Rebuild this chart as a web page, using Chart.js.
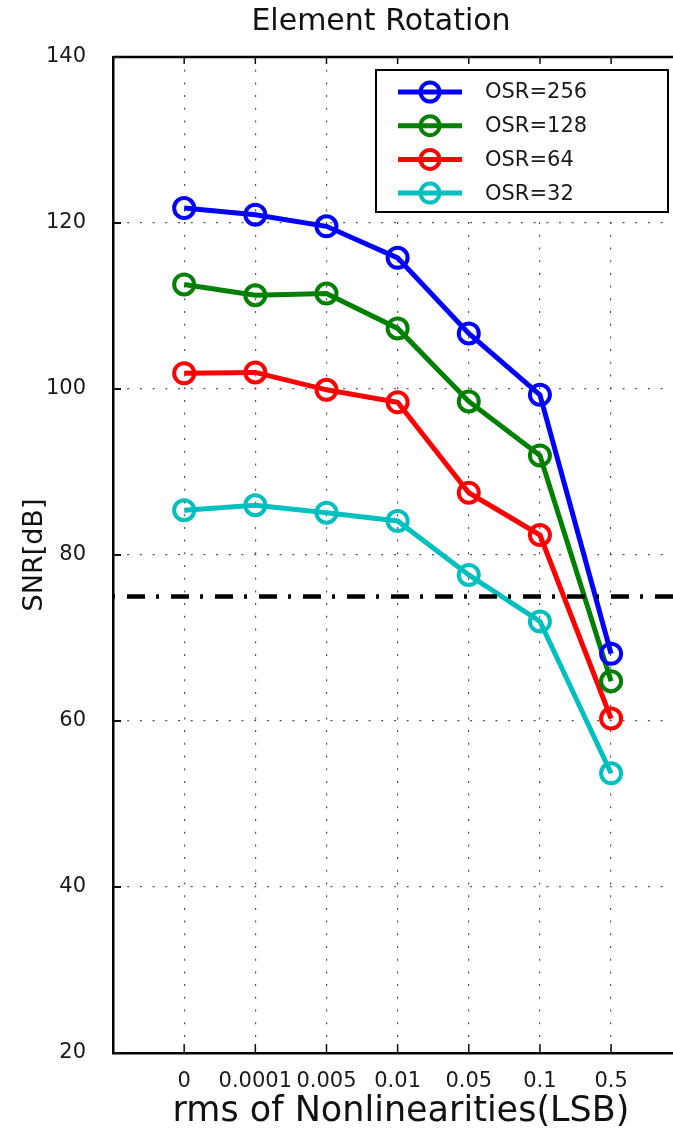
<!DOCTYPE html>
<html>
<head>
<meta charset="utf-8">
<script src="https://cdn.jsdelivr.net/npm/chart.js@4/dist/chart.umd.min.js"></script>
<style>
  html, body { margin: 0; padding: 0; background: #fff; }
  #wrap { width: 673px; height: 1134px; }
</style>
</head>
<body>
<div id="wrap"><canvas id="c" width="673" height="1134"></canvas></div>
<script>
// Nonlinearity levels (LSB rms) along the x axis
const categories = ['0', '0.0001', '0.005', '0.01', '0.05', '0.1', '0.5'];

// SNR in dB for each oversampling ratio
const osr256 = [121.8, 121.0, 119.6, 115.8, 106.7, 99.3, 68.1];
const osr128 = [112.6, 111.3, 111.5, 107.3, 98.5, 92.0, 64.8];
const osr64  = [101.9, 102.0, 99.9, 98.4, 87.5, 82.4, 60.3];
const osr32  = [85.4, 86.0, 85.1, 84.1, 77.6, 72.0, 53.7];

const seriesNames = ['OSR=256', 'OSR=128', 'OSR=64', 'OSR=32'];
const seriesValues = [osr256, osr128, osr64, osr32];
const seriesColors = ['#0000ff', '#008000', '#ff0000', '#00bfbf'];

const yTicks = [20, 40, 60, 80, 100, 120, 140];
const snrTarget = 75;

const FONT = "'DejaVu Sans', 'Liberation Sans', sans-serif";

const datasets = seriesNames.map((name, k) => ({
  label: name,
  data: seriesValues[k].map((v, i) => ({ x: i, y: v })),
  borderColor: seriesColors[k],
  backgroundColor: seriesColors[k],
  borderWidth: 5,
  pointRadius: 10,
  pointBorderWidth: 4,
  pointBackgroundColor: 'rgba(0,0,0,0)',
  pointBorderColor: seriesColors[k],
  tension: 0,
  fill: false
}));

// Frame details: top border, inward tick marks, dash-dot SNR target, titles, legend box
const decorations = {
  id: 'decorations',
  afterDatasetsDraw(chart) {
    const { ctx, chartArea: a, scales: { x, y } } = chart;
    ctx.save();

    // dash-dot target level
    const ty = y.getPixelForValue(snrTarget);
    ctx.strokeStyle = '#000';
    ctx.lineWidth = 4.5;
    ctx.setLineDash([18, 11, 3, 12]);
    ctx.lineDashOffset = 30;
    ctx.beginPath();
    ctx.moveTo(a.left, ty);
    ctx.lineTo(a.right, ty);
    ctx.stroke();
    ctx.setLineDash([]);

    // top border
    ctx.lineWidth = 2.5;
    ctx.beginPath();
    ctx.moveTo(a.left, a.top);
    ctx.lineTo(a.right, a.top);
    ctx.stroke();

    // inward tick marks
    ctx.lineWidth = 1.5;
    ctx.strokeStyle = '#111';
    x.ticks.forEach(t => {
      const px = x.getPixelForValue(t.value);
      ctx.beginPath();
      ctx.moveTo(px, a.top); ctx.lineTo(px, a.top + 7);
      ctx.moveTo(px, a.bottom); ctx.lineTo(px, a.bottom - 9);
      ctx.stroke();
    });
    ctx.lineWidth = 2;
    y.ticks.forEach(t => {
      const py = y.getPixelForValue(t.value);
      ctx.beginPath();
      ctx.moveTo(a.left, py); ctx.lineTo(a.left + 8, py);
      ctx.stroke();
    });

    // legend box
    const bx = 376, by = 70, bw = 292, bh = 142;
    ctx.fillStyle = '#fff';
    ctx.fillRect(bx, by, bw, bh);
    ctx.strokeStyle = '#000';
    ctx.lineWidth = 2;
    ctx.strokeRect(bx, by, bw, bh);
    chart.data.datasets.forEach((ds, k) => {
      const ry = 92 + k * 33.7;
      ctx.strokeStyle = ds.borderColor;
      ctx.lineWidth = 5;
      ctx.beginPath();
      ctx.moveTo(398, ry); ctx.lineTo(462, ry);
      ctx.stroke();
      ctx.lineWidth = 4;
      ctx.beginPath();
      ctx.arc(430, ry, 9.5, 0, Math.PI * 2);
      ctx.stroke();
      ctx.fillStyle = '#1a1a1a';
      ctx.font = '21px ' + FONT;
      ctx.textAlign = 'left';
      ctx.textBaseline = 'middle';
      ctx.fillText(ds.label, 485, ry + 1);
    });

    // titles
    ctx.fillStyle = '#111';
    ctx.textAlign = 'center';
    ctx.textBaseline = 'middle';
    ctx.font = '30px ' + FONT;
    ctx.fillText('Element Rotation', 381, 22);
    ctx.font = '35px ' + FONT;
    ctx.fillText('rms of Nonlinearities(LSB)', 401, 1112);
    ctx.save();
    ctx.translate(35, (a.top + a.bottom) / 2);
    ctx.rotate(-Math.PI / 2);
    ctx.font = '27px ' + FONT;
    ctx.fillText('SNR[dB]', 0, 0);
    ctx.restore();

    ctx.restore();
  }
};

new Chart(document.getElementById('c'), {
  type: 'line',
  data: { datasets },
  options: {
    responsive: false,
    devicePixelRatio: 1,
    animation: false,
    layout: { autoPadding: false, padding: { top: 57, left: 0, right: 0, bottom: 0 } },
    plugins: { legend: { display: false }, tooltip: { enabled: false }, title: { display: false } },
    scales: {
      x: {
        type: 'linear',
        min: -1,
        max: 6.87,
        afterBuildTicks: s => { s.ticks = categories.map((c, i) => ({ value: i })); },
        afterFit: s => { s.height = 81; s.paddingLeft = 0; s.paddingRight = 0; },
        ticks: {
          autoSkip: false,
          maxRotation: 0,
          padding: 16,
          color: '#1a1a1a',
          font: { family: FONT, size: 21 },
          callback: v => categories[v]
        },
        grid: { color: '#555', lineWidth: 1.2, drawTicks: false },
        border: { display: true, color: '#000', width: 2.5, dash: [2, 10.7] }
      },
      y: {
        min: 20,
        max: 140,
        afterBuildTicks: s => { s.ticks = yTicks.map(v => ({ value: v })); },
        afterFit: s => { s.width = 113; s.paddingTop = 0; s.paddingBottom = 0; },
        ticks: {
          padding: 27,
          color: '#1a1a1a',
          font: { family: FONT, size: 21 },
          callback: v => String(v)
        },
        grid: {
          color: ctx => (ctx.tick && (ctx.tick.value === 20 || ctx.tick.value === 140)) ? 'rgba(0,0,0,0)' : '#555',
          lineWidth: 1.2,
          drawTicks: false
        },
        border: { display: true, color: '#000', width: 2.5, dash: [2, 10.7] }
      }
    }
  },
  plugins: [decorations]
});
</script>
</body>
</html>
